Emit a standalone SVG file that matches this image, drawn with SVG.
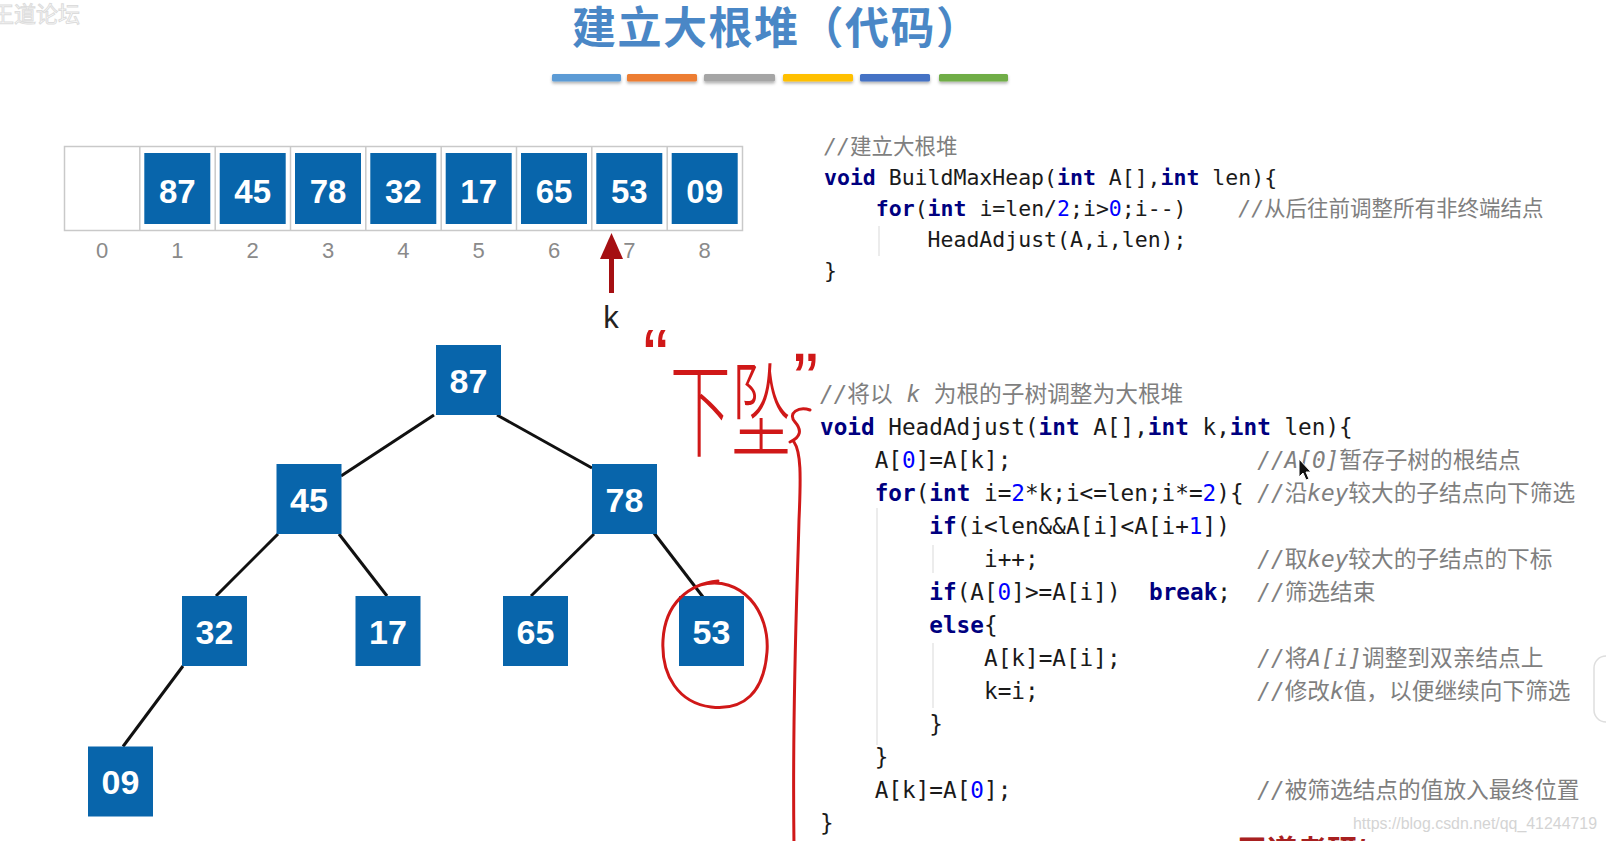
<svg xmlns="http://www.w3.org/2000/svg" width="1606" height="841" viewBox="0 0 1606 841">
<style>
.cell{fill:none;stroke:#c9c9c9;stroke-width:1.5}
.box{fill:#0865ab}
.num{font-family:"Liberation Sans",Arial,sans-serif;font-weight:bold;fill:#fff;text-anchor:middle}
.idx{font-family:"Liberation Sans",Arial,sans-serif;font-size:22px;fill:#8a8a8a;text-anchor:middle}
.edge{stroke:#111;stroke-width:3;fill:none}
.c1{font-family:"DejaVu Sans Mono","Noto Sans CJK SC",monospace;font-size:21.5px;fill:#1a1a1a}
.c2{font-family:"DejaVu Sans Mono","Noto Sans CJK SC",monospace;font-size:22.7px;fill:#1a1a1a}
.kw{fill:#00007f;font-weight:bold}
.n{fill:#0000ff}
.cm{fill:#7f7f7f}
.it{font-style:italic}
.guide{stroke:#e6e6e6;stroke-width:1.5}
.red{fill:none;stroke:#d01818;stroke-width:3;stroke-linecap:round;stroke-linejoin:round}
</style>
<defs>
<filter id="sh" x="-10%" y="-50%" width="120%" height="250%">
<feDropShadow dx="0" dy="2" stdDeviation="1.5" flood-color="#000" flood-opacity="0.3"/>
</filter>
</defs>
<rect width="1606" height="841" fill="#fff"/>

<!-- faint watermark top-left -->
<text x="-8" y="22" font-family="Noto Sans CJK SC,sans-serif" font-size="22" fill="#fff" stroke="#dcdcdc" stroke-width="1">王道论坛</text>

<!-- title -->
<g id="title">
<text x="572" y="44" font-family="'Noto Sans CJK SC',sans-serif" font-weight="bold" font-size="44" letter-spacing="1.5" fill="#4a87c6">建立大根堆（代码）</text>
<g filter="url(#sh)">
<rect x="552" y="74" width="69" height="7.5" rx="1.5" fill="#5b9bd5"/>
<rect x="627" y="74" width="70" height="7.5" rx="1.5" fill="#ed7d31"/>
<rect x="704" y="74" width="71" height="7.5" rx="1.5" fill="#a5a5a5"/>
<rect x="783" y="74" width="70" height="7.5" rx="1.5" fill="#ffc000"/>
<rect x="860" y="74" width="70" height="7.5" rx="1.5" fill="#4472c4"/>
<rect x="939" y="74" width="69" height="7.5" rx="1.5" fill="#70ad47"/>
</g>
</g>

<!-- array -->
<g id="array">
<rect class="cell" x="64.5" y="146.5" width="678" height="84"/>
<g id="cell0"><line class="cell" x1="139.8" y1="146.5" x2="139.8" y2="230.5"/><text class="idx" x="102" y="258">0</text></g>
<g id="cell1"><line class="cell" x1="215.2" y1="146.5" x2="215.2" y2="230.5"/><rect class="box" x="144.3" y="153" width="66" height="71"/><text class="num" font-size="33" x="177.3" y="202.5">87</text><text class="idx" x="177.3" y="258">1</text></g>
<g id="cell2"><line class="cell" x1="290.5" y1="146.5" x2="290.5" y2="230.5"/><rect class="box" x="219.7" y="153" width="66" height="71"/><text class="num" font-size="33" x="252.7" y="202.5">45</text><text class="idx" x="252.7" y="258">2</text></g>
<g id="cell3"><line class="cell" x1="365.8" y1="146.5" x2="365.8" y2="230.5"/><rect class="box" x="295" y="153" width="66" height="71"/><text class="num" font-size="33" x="328" y="202.5">78</text><text class="idx" x="328" y="258">3</text></g>
<g id="cell4"><line class="cell" x1="441.2" y1="146.5" x2="441.2" y2="230.5"/><rect class="box" x="370.3" y="153" width="66" height="71"/><text class="num" font-size="33" x="403.3" y="202.5">32</text><text class="idx" x="403.3" y="258">4</text></g>
<g id="cell5"><line class="cell" x1="516.5" y1="146.5" x2="516.5" y2="230.5"/><rect class="box" x="445.7" y="153" width="66" height="71"/><text class="num" font-size="33" x="478.7" y="202.5">17</text><text class="idx" x="478.7" y="258">5</text></g>
<g id="cell6"><line class="cell" x1="591.8" y1="146.5" x2="591.8" y2="230.5"/><rect class="box" x="521" y="153" width="66" height="71"/><text class="num" font-size="33" x="554" y="202.5">65</text><text class="idx" x="554" y="258">6</text></g>
<g id="cell7"><line class="cell" x1="667.2" y1="146.5" x2="667.2" y2="230.5"/><rect class="box" x="596.3" y="153" width="66" height="71"/><text class="num" font-size="33" x="629.3" y="202.5">53</text><text class="idx" x="629.3" y="258">7</text></g>
<g id="cell8"><rect class="box" x="671.7" y="153" width="66" height="71"/><text class="num" font-size="33" x="704.7" y="202.5">09</text><text class="idx" x="704.7" y="258">8</text></g>
</g>

<!-- pointer k -->
<g id="pointer-k">
<rect x="609" y="256" width="5" height="37" fill="#a50f12"/>
<polygon points="600,259 611.5,233 623,259" fill="#a50f12"/>
<text x="611" y="328" font-family="'Liberation Sans',Arial,sans-serif" font-size="31" fill="#222" text-anchor="middle">k</text>
</g>

<!-- tree connectors -->
<g id="connectors">
<line class="edge" x1="434" y1="415" x2="341" y2="476"/>
<line class="edge" x1="497" y1="415" x2="592" y2="468"/>
<line class="edge" x1="278" y1="534" x2="216" y2="596"/>
<line class="edge" x1="339" y1="534" x2="387" y2="596"/>
<line class="edge" x1="594" y1="534" x2="531" y2="596"/>
<line class="edge" x1="654" y1="533" x2="703" y2="597"/>
<line class="edge" x1="183" y1="666" x2="123" y2="746.5"/>
</g>

<!-- tree nodes -->
<g id="node-87"><rect class="box" x="436" y="345" width="65" height="70"/><text class="num" font-size="34" x="468.5" y="392.5">87</text></g>
<g id="node-45"><rect class="box" x="276.5" y="464" width="65" height="70"/><text class="num" font-size="34" x="309" y="511.5">45</text></g>
<g id="node-78"><rect class="box" x="592" y="464" width="65" height="70"/><text class="num" font-size="34" x="624.5" y="511.5">78</text></g>
<g id="node-32"><rect class="box" x="182" y="596" width="65" height="70"/><text class="num" font-size="34" x="214.5" y="643.5">32</text></g>
<g id="node-17"><rect class="box" x="355.5" y="596" width="65" height="70"/><text class="num" font-size="34" x="388" y="643.5">17</text></g>
<g id="node-65"><rect class="box" x="503" y="596" width="65" height="70"/><text class="num" font-size="34" x="535.5" y="643.5">65</text></g>
<g id="node-53"><rect class="box" x="679" y="596" width="65" height="70"/><text class="num" font-size="34" x="711.5" y="643.5">53</text></g>
<g id="node-09"><rect class="box" x="88" y="746.5" width="65" height="70"/><text class="num" font-size="34" x="120.5" y="794">09</text></g>

<!-- handwritten annotations -->
<g id="annotations">
<path class="red" d="M 700 585 C 742 574 770 612 767 652 C 764 692 744 711 711 707 C 679 703 661 676 663 640 C 665 604 688 584 718 581"/>
<text x="643" y="382" font-family="'Liberation Sans',Arial,sans-serif" font-size="76" fill="#d01818">“</text>
<text x="793" y="406" font-family="'Liberation Sans',Arial,sans-serif" font-size="76" fill="#d01818">”</text>
<text transform="translate(670,449) scale(0.74,1.26)" font-family="'Noto Sans CJK SC',sans-serif" font-weight="300" font-size="82" fill="#d01818">下坠</text>
<path class="red" d="M 810 410 C 799 406 787 413 795 422 C 802 430 801 437 790 442 M 794 442 C 801 452 801 475 799 520 C 797 600 792 700 794 845"/>
</g>

<!-- code: BuildMaxHeap -->
<g id="code-build">
<line class="guide" x1="879" y1="226" x2="879" y2="256"/>
<text class="c1 cm" x="824" y="154"><tspan class="it">//</tspan>建立大根堆</text>
<text class="c1" x="824" y="185"><tspan class="kw">void</tspan> BuildMaxHeap(<tspan class="kw">int</tspan> A[],<tspan class="kw">int</tspan> len){</text>
<text class="c1" x="875.8" y="216"><tspan class="kw">for</tspan>(<tspan class="kw">int</tspan> i=len/<tspan class="n">2</tspan>;i&gt;<tspan class="n">0</tspan>;i--)</text>
<text class="c1 cm" x="1238.2" y="216"><tspan class="it">//</tspan>从后往前调整所有非终端结点</text>
<text class="c1" x="927.6" y="247">HeadAdjust(A,i,len);</text>
<text class="c1" x="824" y="278">}</text>
</g>

<!-- code: HeadAdjust -->
<g id="code-adjust">
<line class="guide" x1="877" y1="508" x2="877" y2="745"/>
<line class="guide" x1="933" y1="545" x2="933" y2="573"/>
<line class="guide" x1="933" y1="643" x2="933" y2="708"/>
<text class="c2 cm" x="820" y="401.5"><tspan class="it">//</tspan>将以 <tspan class="it">k</tspan> 为根的子树调整为大根堆</text>
<text class="c2" x="820" y="434.5"><tspan class="kw">void</tspan> HeadAdjust(<tspan class="kw">int</tspan> A[],<tspan class="kw">int</tspan> k,<tspan class="kw">int</tspan> len){</text>
<text class="c2" x="874.7" y="467.5">A[<tspan class="n">0</tspan>]=A[k];</text>
<text class="c2 cm" x="1257.3" y="467.5"><tspan class="it">//A[0]</tspan>暂存子树的根结点</text>
<text class="c2" x="874.7" y="500.5"><tspan class="kw">for</tspan>(<tspan class="kw">int</tspan> i=<tspan class="n">2</tspan>*k;i&lt;=len;i*=<tspan class="n">2</tspan>){</text>
<text class="c2 cm" x="1257.3" y="500.5"><tspan class="it">//</tspan>沿<tspan class="it">key</tspan>较大的子结点向下筛选</text>
<text class="c2" x="929.3" y="533.5"><tspan class="kw">if</tspan>(i&lt;len&amp;&amp;A[i]&lt;A[i+<tspan class="n">1</tspan>])</text>
<text class="c2" x="984" y="566.5">i++;</text>
<text class="c2 cm" x="1257.3" y="566.5"><tspan class="it">//</tspan>取<tspan class="it">key</tspan>较大的子结点的下标</text>
<text class="c2" x="929.3" y="599.5"><tspan class="kw">if</tspan>(A[<tspan class="n">0</tspan>]&gt;=A[i])</text>
<text class="c2 kw" x="1149" y="599.5">break</text>
<text class="c2" x="1217.3" y="599.5">;</text>
<text class="c2 cm" x="1257.3" y="599.5"><tspan class="it">//</tspan>筛选结束</text>
<text class="c2" x="929.3" y="632.5"><tspan class="kw">else</tspan>{</text>
<text class="c2" x="984" y="665.5">A[k]=A[i];</text>
<text class="c2 cm" x="1257.3" y="665.5"><tspan class="it">//</tspan>将<tspan class="it">A[i]</tspan>调整到双亲结点上</text>
<text class="c2" x="984" y="698.5">k=i;</text>
<text class="c2 cm" x="1257.3" y="698.5"><tspan class="it">//</tspan>修改<tspan class="it">k</tspan>值，以便继续向下筛选</text>
<text class="c2" x="929.3" y="731.5">}</text>
<text class="c2" x="874.7" y="764.5">}</text>
<text class="c2" x="874.7" y="797.5">A[k]=A[<tspan class="n">0</tspan>];</text>
<text class="c2 cm" x="1257.3" y="797.5"><tspan class="it">//</tspan>被筛选结点的值放入最终位置</text>
<text class="c2" x="820" y="830.5">}</text>
</g>

<!-- mouse cursor -->
<path d="M1299,459 L1299,477 L1303,473 L1306,480 L1309,479 L1306,472 L1311,472 Z" fill="#111" stroke="#fff" stroke-width="1"/>

<!-- right edge UI element -->
<rect x="1594" y="656" width="40" height="66" rx="12" fill="#fff" stroke="#dedede" stroke-width="1.5"/>

<!-- watermarks -->
<text x="1353" y="829" font-family="'Liberation Sans',Arial,sans-serif" font-size="16" fill="#d4d4d4" textLength="244" lengthAdjust="spacingAndGlyphs">https://blog.csdn.net/qq_41244719</text>
<text x="1237" y="861" font-family="'Liberation Sans','Noto Sans CJK SC',sans-serif" font-size="30" font-weight="bold" fill="#a82020">王道考研/CSKAOYAN.COM</text>
</svg>
